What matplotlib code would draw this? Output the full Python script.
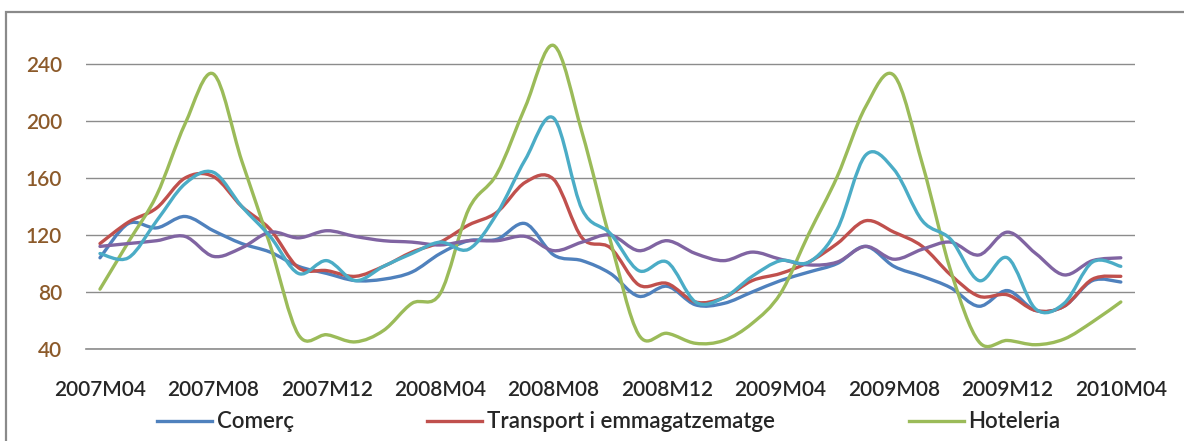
import numpy as np
import matplotlib
matplotlib.use("Agg")
import matplotlib.pyplot as plt
from matplotlib.path import Path
from matplotlib.patches import PathPatch, Rectangle
from matplotlib.lines import Line2D

# ---------------- data ----------------
periods = ["2007M04", "2007M05", "2007M06", "2007M07", "2007M08", "2007M09", "2007M10",
           "2007M11", "2007M12", "2008M01", "2008M02", "2008M03", "2008M04", "2008M05",
           "2008M06", "2008M07", "2008M08", "2008M09", "2008M10", "2008M11", "2008M12",
           "2009M01", "2009M02", "2009M03", "2009M04", "2009M05", "2009M06", "2009M07",
           "2009M08", "2009M09", "2009M10", "2009M11", "2009M12", "2010M01", "2010M02",
           "2010M03", "2010M04"]

comerc = [104, 128, 125, 133, 123, 114, 108, 98, 93, 88, 89, 94, 107, 116, 117, 128, 106,
          102, 93, 77, 84, 71, 72, 80, 88, 94, 100, 112, 98, 91, 83, 70, 81, 67, 70, 88, 87]
transport = [114, 129, 139, 160, 161, 140, 124, 97, 95, 91, 98, 108, 115, 127, 136, 157, 159,
             118, 111, 85, 86, 73, 76, 88, 93, 101, 114, 130, 122, 112, 92, 77, 78, 67, 70, 89, 91]
hoteleria = [82, 115, 148, 198, 233, 172, 113, 50, 50, 45, 53, 72, 79, 138, 163, 210, 253,
             192, 116, 50, 51, 44, 46, 58, 79, 121, 161, 210, 232, 170, 95, 45, 46, 43, 47, 59, 73]
serie4 = [112, 114, 116, 119, 105, 111, 122, 118, 123, 119, 116, 115, 113, 116, 116, 119, 109,
          115, 120, 109, 116, 107, 102, 108, 103, 99, 101, 112, 103, 110, 115, 106, 122, 107,
          92, 102, 104]
serie5 = [107, 104, 130, 156, 164, 140, 119, 93, 102, 88, 98, 107, 115, 110, 135, 173, 202,
          138, 121, 95, 101, 73, 76, 91, 102, 101, 124, 176, 166, 130, 117, 88, 104, 68, 72,
          101, 98]

series_names = ["Comerç", "Transport i emmagatzematge", "Hoteleria", None, None]
series_values = [comerc, transport, hoteleria, serie4, serie5]
series_colors = ["#4F81BD", "#C0504D", "#9BBB59", "#8064A2", "#4BACC6"]

yticks = [40, 80, 120, 160, 200, 240]
tick_step = 4

# ---------------- helpers ----------------
def smooth_path(x, y):
    x = np.asarray(x, float)
    y = np.asarray(y, float)
    n = len(x)
    verts = [(x[0], y[0])]
    codes = [Path.MOVETO]
    for i in range(n - 1):
        i0 = max(i - 1, 0)
        i3 = min(i + 2, n - 1)
        c1 = (x[i] + (x[i + 1] - x[i0]) / 6.0, y[i] + (y[i + 1] - y[i0]) / 6.0)
        c2 = (x[i + 1] - (x[i3] - x[i]) / 6.0, y[i + 1] - (y[i3] - y[i]) / 6.0)
        verts += [c1, c2, (x[i + 1], y[i + 1])]
        codes += [Path.CURVE4] * 3
    return Path(verts, codes)

FONT = ["Lato", "DejaVu Sans"]
plt.rcParams["font.family"] = FONT
plt.rcParams["font.weight"] = "semibold"

W, H = 1184, 441
fig = plt.figure(figsize=(W / 100, H / 100), dpi=100)
fig.patch.set_facecolor("white")

# outer chart border (left & top visible, continues past the image edges)
fig.add_artist(Rectangle((6 / W, -0.2), 1.2, (H - 12) / H + 0.2, transform=fig.transFigure,
                         facecolor="none", edgecolor="#8a8a8a", lw=1.6))

ax = fig.add_axes([85.8 / W, (H - 349) / H, (1135 - 85.8) / W, (349 - 35.5) / H])
ax.set_facecolor("none")

x = np.arange(len(periods))
handles = []
for name, vals, col in zip(series_names, series_values, series_colors):
    p = smooth_path(x, vals)
    ax.add_patch(PathPatch(p, facecolor="none", edgecolor=col, lw=2.4,
                           capstyle="round", joinstyle="round", zorder=3))
    if name:
        handles.append(Line2D([], [], color=col, lw=2.4, label=name))

ax.set_xlim(-0.5, len(periods) - 0.5)
ax.set_ylim(40, 260)
ax.set_yticks(yticks)
ax.set_yticklabels([str(v) for v in yticks])
ax.set_xticks(x[::tick_step])
ax.set_xticklabels(periods[::tick_step])

ax.yaxis.grid(True, color="#8c8c8c", lw=1.0)
ax.set_axisbelow(True)
for s in ["top", "right", "left"]:
    ax.spines[s].set_visible(False)
ax.spines["bottom"].set_color("#8c8c8c")
ax.spines["bottom"].set_linewidth(1.2)

ax.tick_params(axis="x", length=0, pad=22, labelsize=15, labelcolor="#262626")
ax.tick_params(axis="y", length=0, pad=17, labelsize=15, labelcolor="#8C5A2A")

leg = fig.legend(handles=handles, loc="center left", bbox_to_anchor=(157 / W, (H - 422) / H),
                 ncol=3, frameon=False, fontsize=16, handlelength=2.48, handletextpad=0.22,
                 columnspacing=6.0, borderpad=0, borderaxespad=0)
for t in leg.get_texts():
    t.set_color("#262626")

fig.savefig("out.png", dpi=100, facecolor="white")
